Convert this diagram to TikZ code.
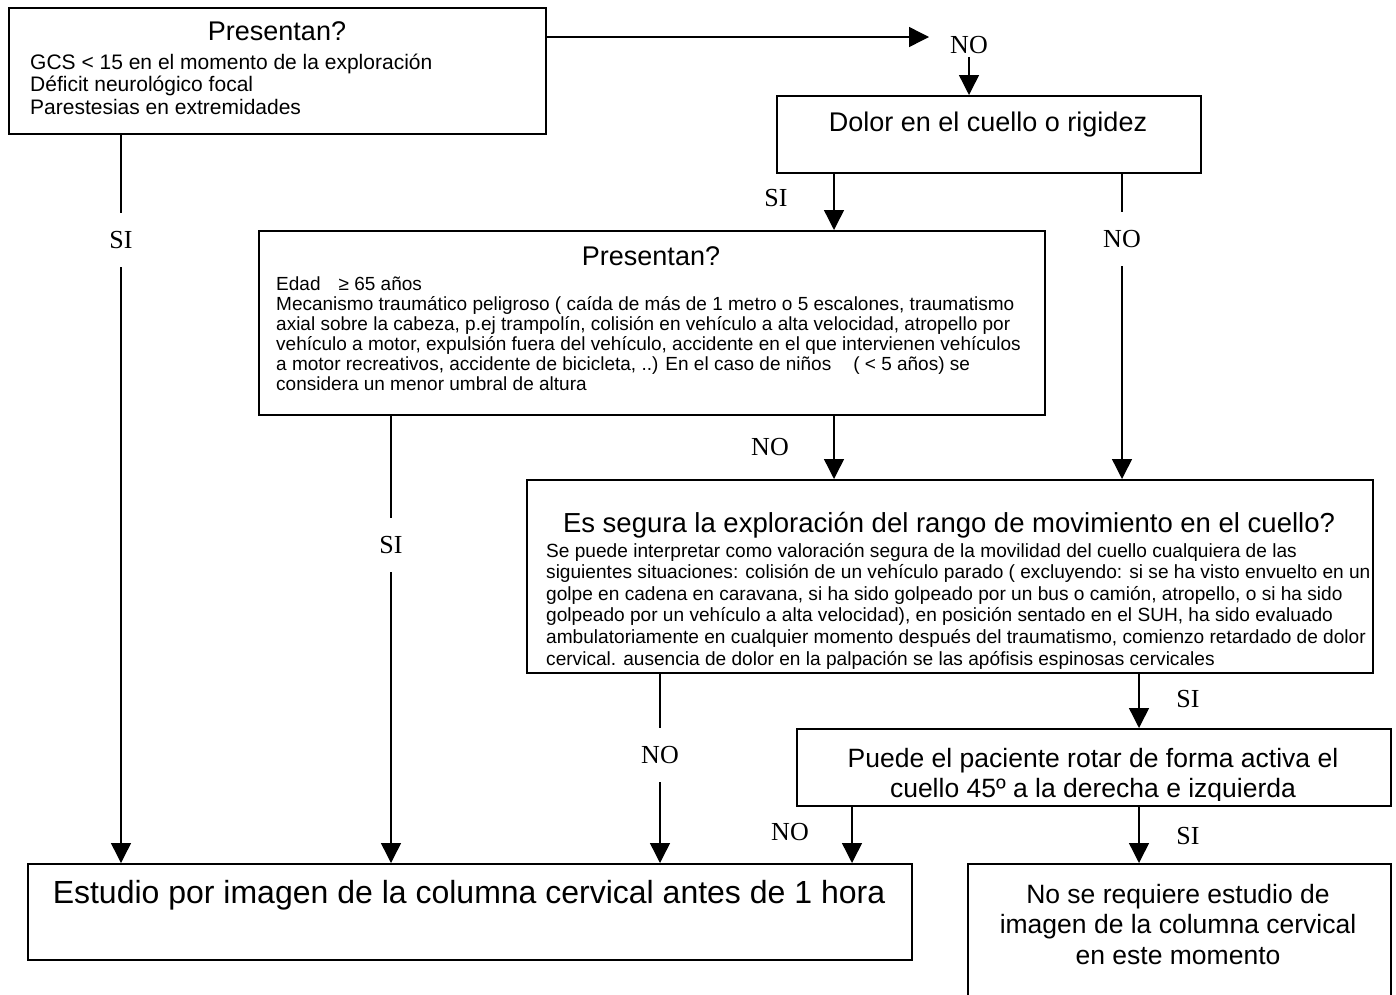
\documentclass[tikz,border=0pt]{standalone}
\usepackage{fontspec}
\setmainfont{Liberation Sans}
\newfontfamily\lblfont{Liberation Serif}
\usetikzlibrary{arrows.meta}
\begin{document}
\begin{tikzpicture}[x=1pt,y=-1pt,
  box/.style={draw, line width=1.6pt, anchor=north west, inner sep=0pt},
  arr/.style={line width=1.4pt, -{Triangle[length=20pt,width=20pt]}},
  lab/.style={font=\lblfont\fontsize{26}{28}\selectfont, inner sep=0pt},
  inl/.style={lab, fill=white, minimum height=54pt, inner xsep=4pt},
  ln/.style={anchor=base west, inner sep=0pt},
  ttl/.style={anchor=base, inner sep=0pt},
  fA/.style={font=\fontsize{21}{23}\selectfont},
  fB/.style={font=\fontsize{19}{21}\selectfont},
  fC/.style={font=\fontsize{19.1}{21}\selectfont},
  fT/.style={font=\fontsize{27}{30}\selectfont},
  fM/.style={font=\fontsize{26.5}{30}\selectfont},
]
\path[use as bounding box, fill=white] (0,0) rectangle (1396,994);
\clip (0,0) rectangle (1396,994);

% boxes
\node[box, minimum width=537pt, minimum height=126pt] (b1) at (8,7) {};
\node[box, minimum width=424pt, minimum height=77pt] (b0) at (776,95) {};
\node[box, minimum width=786pt, minimum height=184pt] (b2) at (258,230) {};
\node[box, minimum width=846pt, minimum height=193pt] (b3) at (526,479) {};
\node[box, minimum width=594pt, minimum height=77pt] (b4) at (796,728) {};
\node[box, minimum width=884pt, minimum height=96pt] (b6) at (27,863) {};
\node[box, minimum width=423pt, minimum height=200pt] (b5) at (967,863) {};

% columns
\coordinate (xa) at (121,0);
\coordinate (xb) at (391,0);
\coordinate (xc) at (660,0);
\coordinate (xd) at (834,0);
\coordinate (xe) at (852,0);
\coordinate (xg) at (1122,0);
\coordinate (xh) at (1139,0);
\coordinate (ya) at (0,37);
\coordinate (tipA) at (929,37);

% connectors
\draw[arr] (b1.east |- ya) -- (tipA);
\node[lab] (no0) at (969,45) {NO};
\draw[arr, shorten <=3pt] (no0.south) -- (b0.north -| no0);
\draw[arr] (b0.south -| xd) -- (b2.north -| xd);
\node[lab] (si0) at (776,198) {SI};
\draw[arr] (b0.south -| xg) -- (b3.north -| xg);
\node[inl] (no1) at (1122,239) {NO};
\draw[arr] (b1.south -| xa) -- (b6.north -| xa);
\node[inl] (si1) at (121,240) {SI};
\draw[arr] (b2.south -| xb) -- (b6.north -| xb);
\node[inl] (si2) at (391,545) {SI};
\draw[arr] (b2.south -| xd) -- (b3.north -| xd);
\node[lab] (no2) at (770,447) {NO};
\draw[arr] (b3.south -| xc) -- (b6.north -| xc);
\node[inl] (no3) at (660,755) {NO};
\draw[arr] (b3.south -| xh) -- (b4.north -| xh);
\node[lab] (si3) at (1188,699) {SI};
\draw[arr] (b4.south -| xe) -- (b6.north -| xe);
\node[lab] (no4) at (790,832) {NO};
\draw[arr] (b4.south -| xh) -- (b5.north -| xh);
\node[lab] (si4) at (1188,836) {SI};

% box 1 text
\node[fT, ttl] (t1) at (277,40) {Presentan?};
\node[fA, ln] (t1a) at (30,69) {GCS < 15 en el momento de la exploración};
\node[fA, ln] (t1b) at (30,91.5) {Déficit neurológico focal};
\node[fA, ln] (t1c) at (30,114) {Parestesias en extremidades};

% dolor
\node[fT, ttl] (t0) at (988,131) {Dolor en el cuello o rigidez};

% box 2 text
\node[fT, ttl] (t2) at (651,265) {Presentan?};
\node[fB, ln] (t2a) at (276,290) {Edad\hspace{18pt}≥ 65 años};
\node[fB, ln] (t2b) at (276,310) {Mecanismo traumático peligroso ( caída de más de 1 metro o 5 escalones, traumatismo};
\node[fB, ln] (t2c) at (276,330) {axial sobre la cabeza, p.ej trampolín, colisión en vehículo a alta velocidad, atropello por};
\node[fB, ln] (t2d) at (276,350) {vehículo a motor, expulsión fuera del vehículo, accidente en el que intervienen vehículos};
\node[fB, ln] (t2e) at (276,370) {a motor recreativos, accidente de bicicleta, ..) En el caso de niños\hspace{22pt}( < 5 años) se};
\node[fB, ln] (t2f) at (276,390) {considera un menor umbral de altura};

% box 3 text
\node[font=\fontsize{27.5}{30}\selectfont, ttl] (t3) at (949,532) {Es segura la exploración del rango de movimiento en el cuello?};
\begin{scope}
\clip (b3.north west) rectangle ([yshift=5pt]b3.south east);
\node[fC, ln] (t3a) at (546,557) {Se puede interpretar como valoración segura de la movilidad del cuello cualquiera de las};
\node[fC, ln] (t3b) at (546,578.5) {siguientes situaciones: colisión de un vehículo parado ( excluyendo: si se ha visto envuelto en un};
\node[fC, ln] (t3c) at (546,600) {golpe en cadena en caravana, si ha sido golpeado por un bus o camión, atropello, o si ha sido};
\node[fC, ln] (t3d) at (546,621.5) {golpeado por un vehículo a alta velocidad), en posición sentado en el SUH, ha sido evaluado};
\node[fC, ln] (t3e) at (546,643) {ambulatoriamente en cualquier momento después del traumatismo, comienzo retardado de dolor};
\node[fC, ln] (t3f) at (546,665) {cervical. ausencia de dolor en la palpación se las apófisis espinosas cervicales};
\end{scope}

% box 4 text
\begin{scope}
\clip (b4.north west) rectangle ([yshift=6pt]b4.south east);
\node[fM, ttl] (t4a) at (1093,767) {Puede el paciente rotar de forma activa el};
\node[fM, ttl] (t4b) at (1093,797) {cuello 45º a la derecha e izquierda};
\end{scope}

% bottom boxes text
\node[font=\fontsize{32}{36}\selectfont, ttl] (t6) at (469,903) {Estudio por imagen de la columna cervical antes de 1 hora};
\node[fM, ttl] (t5a) at (1178,903) {No se requiere estudio de};
\node[fM, ttl] (t5b) at (1178,933.5) {imagen de la columna cervical};
\node[fM, ttl] (t5c) at (1178,964) {en este momento};
\end{tikzpicture}
\end{document}
